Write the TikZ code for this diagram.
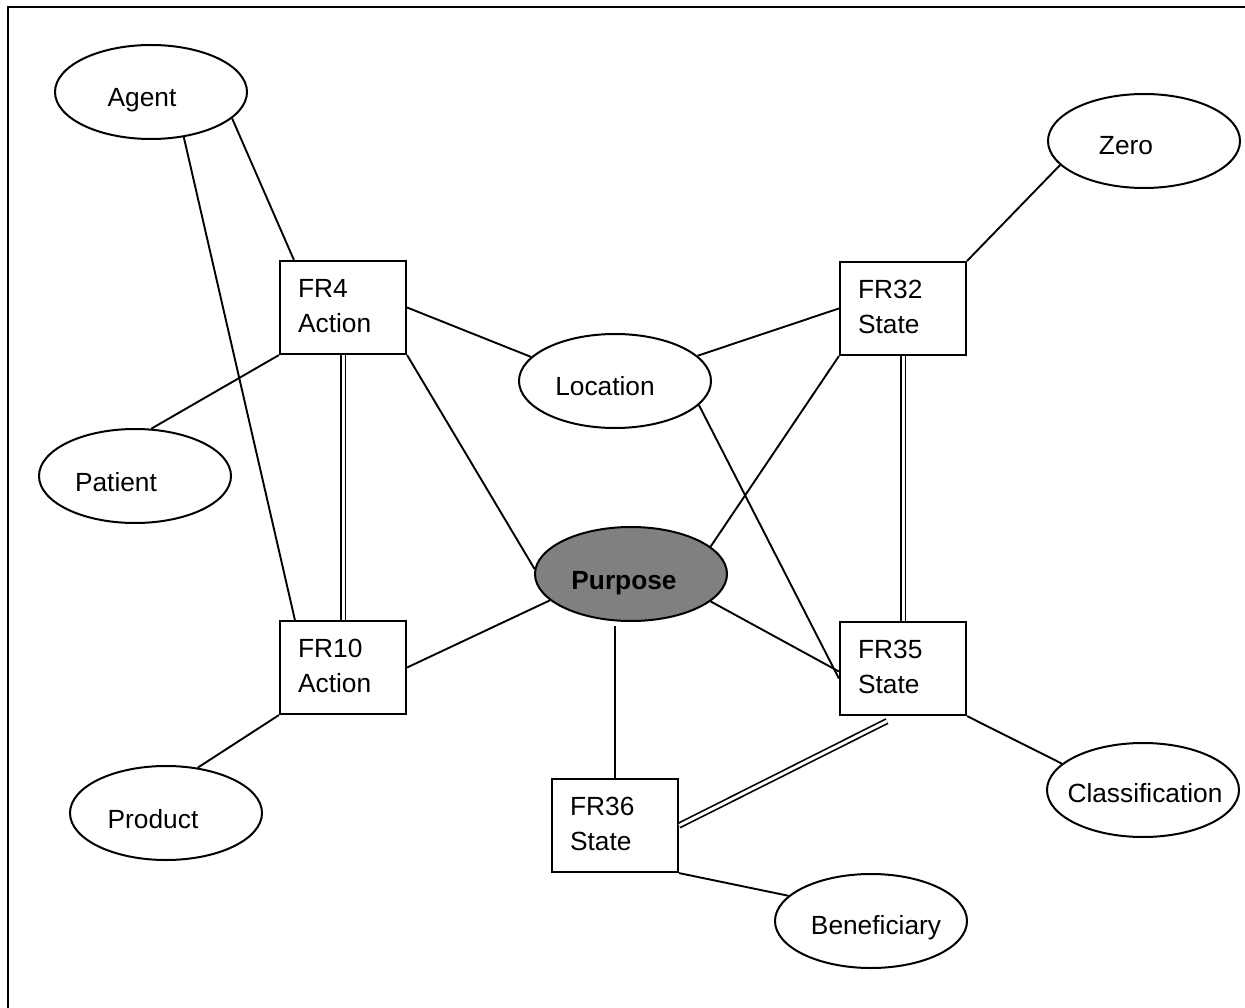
\documentclass[tikz,border=0pt]{standalone}
\usepackage{fontspec}
\setmainfont{Liberation Sans}
\usetikzlibrary{shapes.geometric,calc}
\begin{document}
\begin{tikzpicture}[x=1pt,y=-1pt,
  oval/.style={ellipse,draw,line width=2pt,minimum width=192pt,minimum height=94pt,inner sep=0pt},
  frbox/.style={rectangle,draw,line width=2.2pt,minimum width=126pt,minimum height=93pt,inner sep=0pt},
  txt/.style={font=\fontsize{26.3}{31}\selectfont,inner sep=0pt,anchor=base},
  btxt/.style={font=\fontsize{26.3}{31}\selectfont,inner sep=0pt,anchor=base west},
  link/.style={draw,line width=1.9pt},
  dbl/.style={draw,line width=1.7pt,double,double distance=3pt}]
\useasboundingbox (0,0) rectangle (1245,1008);
\draw[line width=2.5pt] (8,1010) -- (8,7) -- (1247,7);

% ellipses
\node[oval] (agent) at (151,92) {};
\node[oval] (zero) at (1144,141) {};
\node[oval] (location) at (615,381) {};
\node[oval] (patient) at (135,476) {};
\node[oval,fill=gray] (purpose) at (631,574) {};
\node[oval] (product) at (166,813) {};
\node[oval] (classification) at (1143,790) {};
\node[oval] (beneficiary) at (871,921) {};

\node[txt] (tagent) at (142,107) {Agent};
\node[txt] (tzero) at (1126,155) {Zero};
\node[txt] (tlocation) at (605,395) {Location};
\node[txt] (tpatient) at (116,491) {Patient};
\node[txt,font=\fontsize{26.3}{31}\selectfont\bfseries] (tpurpose) at (624,589) {Purpose};
\node[txt] (tproduct) at (153,828) {Product};
\node[txt] (tclass) at (1145,802) {Classification};
\node[txt] (tbenef) at (876,934) {Beneficiary};

% boxes
\node[frbox] (fr4) at (343,307.5) {};
\node[frbox] (fr32) at (903,308.5) {};
\node[frbox] (fr10) at (343,667.5) {};
\node[frbox] (fr35) at (903,668.5) {};
\node[frbox] (fr36) at (615,825.5) {};

\node[btxt] (fr4a) at ([xshift=19pt,yshift=-38pt]fr4.north west) {FR4};
\node[btxt] (fr4b) at ([xshift=19pt,yshift=-73pt]fr4.north west) {Action};
\node[btxt] (fr32a) at ([xshift=19pt,yshift=-38pt]fr32.north west) {FR32};
\node[btxt] (fr32b) at ([xshift=19pt,yshift=-73pt]fr32.north west) {State};
\node[btxt] (fr10a) at ([xshift=19pt,yshift=-38pt]fr10.north west) {FR10};
\node[btxt] (fr10b) at ([xshift=19pt,yshift=-73pt]fr10.north west) {Action};
\node[btxt] (fr35a) at ([xshift=19pt,yshift=-38pt]fr35.north west) {FR35};
\node[btxt] (fr35b) at ([xshift=19pt,yshift=-73pt]fr35.north west) {State};
\node[btxt] (fr36a) at ([xshift=19pt,yshift=-38pt]fr36.north west) {FR36};
\node[btxt] (fr36b) at ([xshift=19pt,yshift=-73pt]fr36.north west) {State};

% connectors
\draw[link] (agent.-18) -- ([xshift=15pt]fr4.north west);
\draw[link] (agent.-54) -- ([xshift=16pt]fr10.north west);
\draw[link] (fr4.south west) -- (patient.71);
\draw[link] (fr4.east) -- (location.164);
\draw[link] (fr4.south east) -- (purpose.177);
\draw[dbl] (fr4.south) -- (fr10.north);
\draw[link] (fr32.north east) -- (zero.196);
\draw[link] (fr32.west) -- (location.17);
\draw[link] (fr32.south west) -- (purpose.19);
\draw[dbl] (fr32.south) -- (fr35.north);
\draw[link] (location.-16) -- ([yshift=-10pt]fr35.west);
\draw[link] (purpose.198) -- (fr10.east);
\draw[link] (purpose.-19) -- ([yshift=-3pt]fr35.west);
\draw[link] ([yshift=-4pt]fr36.north |- purpose.south) -- (fr36.north);
\draw[link] (fr10.south west) -- (product.55);
\draw[link] (fr35.south east) -- (classification.162);
\draw[dbl] ([xshift=-16pt,yshift=-5pt]fr35.south) -- (fr36.east);
\draw[link] (fr36.south east) -- (beneficiary.163);
\end{tikzpicture}
\end{document}
